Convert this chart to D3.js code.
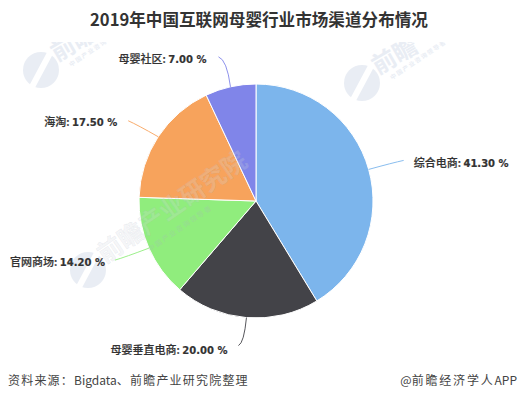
<!DOCTYPE html>
<html><head><meta charset="utf-8">
<script src="https://d3js.org/d3.v7.min.js"></script>
<style>html,body{margin:0;padding:0;background:#fff}svg{display:block}text{font-family:"Noto Sans CJK SC","Liberation Sans",sans-serif}</style>
</head><body><svg id="c" width="518" height="400"></svg>
<script>
const categories=["综合电商","母婴垂直电商","官网商场","海淘","母婴社区"];
const shares=[41.30,20.00,14.20,17.50,7.00];
const colors=["#7cb5ec","#434348","#90ed7d","#f7a35c","#8085e9"];
const titleText="2019年中国互联网母婴行业市场渠道分布情况";
const sourceParts=["资料来源：","Bigdata","、","前瞻产业研究院整理"];
const creditParts=["@","前瞻经济学人","APP"];
const wmBrand="前瞻";
const wmBrandLong="前瞻产业研究院";
const wmTagline="中国产业咨询领导者";

// layout, per slice: leader end offset from the slice edge, and label anchor offset from the leader end
const leaderEnd=[[35,-9],[-8,28],[-34,12],[-30,-16],[-12,-30]];
const labelGap=[[10,7],[-11,8],[-10,6],[-11,5],[-12,6]];
const cx=256,cy=201,R=117;

const svg=d3.select("#c");
const pie=d3.pie().value(d=>d).sort(null)(shares);
const arc=d3.arc().innerRadius(0).outerRadius(R);

svg.append("defs").append("clipPath").attr("id","wmclip").append("rect")
  .attr("x",0).attr("y",42).attr("width",518).attr("height",300);
const wm=svg.append("g").attr("clip-path","url(#wmclip)");
function watermark(x,y,withText){
  const g=wm.append("g").attr("transform",`translate(${x},${y})`).attr("fill","#e9edf4");
  g.append("circle").attr("r",18);
  g.append("path").attr("d","M-3,-19L3,-19L3,19L-3,19Z").attr("fill","#fff").attr("transform","rotate(28)");
  if(withText){
    g.append("text").attr("transform","translate(16,-8) rotate(-30)").attr("font-size",24).attr("font-weight",700).text(wmBrand);
    g.append("text").attr("transform","translate(30,-3) rotate(-34)").attr("font-size",6).attr("letter-spacing",1.4).attr("font-weight",700).text(wmTagline);
  }
}
watermark(41,70,true);
watermark(362,83,true);
watermark(88,270,false);

const slices=svg.append("g").attr("transform",`translate(${cx},${cy})`);
slices.selectAll("path").data(pie).join("path")
  .attr("d",arc).attr("fill",(d,i)=>colors[i]).attr("stroke","#fff").attr("stroke-width",1);

// centre watermark printed over the pie
svg.append("text").attr("transform","translate(105,264) rotate(-34.6)")
  .attr("font-size",25).attr("font-weight",700).attr("fill","#d5dae3").attr("fill-opacity",.22)
  .attr("stroke","#9aa4b5").attr("stroke-opacity",.16).attr("stroke-width",.6).text(wmBrandLong);
svg.append("text").attr("transform","translate(150,252) rotate(-34.6)")
  .attr("font-size",7).attr("letter-spacing",1.5).attr("font-weight",700).attr("fill","#aab3c2").attr("fill-opacity",.25).text(wmTagline);

const mid=d=>(d.startAngle+d.endAngle)/2;
const edge=d=>[cx+R*Math.sin(mid(d)),cy-R*Math.cos(mid(d))];
const leaders=svg.append("g").attr("fill","none");
pie.forEach((d,i)=>{
  const [x0,y0]=edge(d),[dx,dy]=leaderEnd[i];
  const p=d3.path();
  p.moveTo(x0,y0);
  p.quadraticCurveTo(x0+dx*(Math.abs(dy)>Math.abs(dx)?.3:.7),y0+dy*(Math.abs(dy)>Math.abs(dx)?.9:.75),x0+dx,y0+dy);
  leaders.append("path").attr("d",p.toString()).attr("stroke",colors[i]).attr("stroke-width",.9);
  const [gx,gy]=labelGap[i];
  svg.append("text").attr("x",x0+dx+gx).attr("y",y0+dy+gy)
    .attr("text-anchor",gx>0?"start":"end").attr("font-size",11).attr("font-weight",500).attr("fill","#333")
    .attr("stroke","#333").attr("stroke-width",.2)
    .text(`${categories[i]}: `).append("tspan").attr("font-family","'DejaVu Sans',sans-serif").attr("font-weight",700).attr("font-size",10)
    .text(`${d.data.toFixed(2)} %`);
});

svg.append("text").attr("x",259).attr("y",26).attr("text-anchor","middle").attr("font-size",16.6).attr("font-weight",700).attr("fill","#333").text(titleText);
const src=svg.append("text").attr("x",8).attr("y",384.5).attr("font-size",12).attr("fill","#444");
sourceParts.forEach((t,i)=>src.append("tspan").attr("letter-spacing",i===1?0:1.2).text(t));
const credit=svg.append("text").attr("x",517).attr("y",384.5).attr("text-anchor","end").attr("font-size",12).attr("fill","#444");
creditParts.forEach((t,i)=>credit.append("tspan").attr("letter-spacing",i===1?1.8:0).text(t));
</script></body></html>
